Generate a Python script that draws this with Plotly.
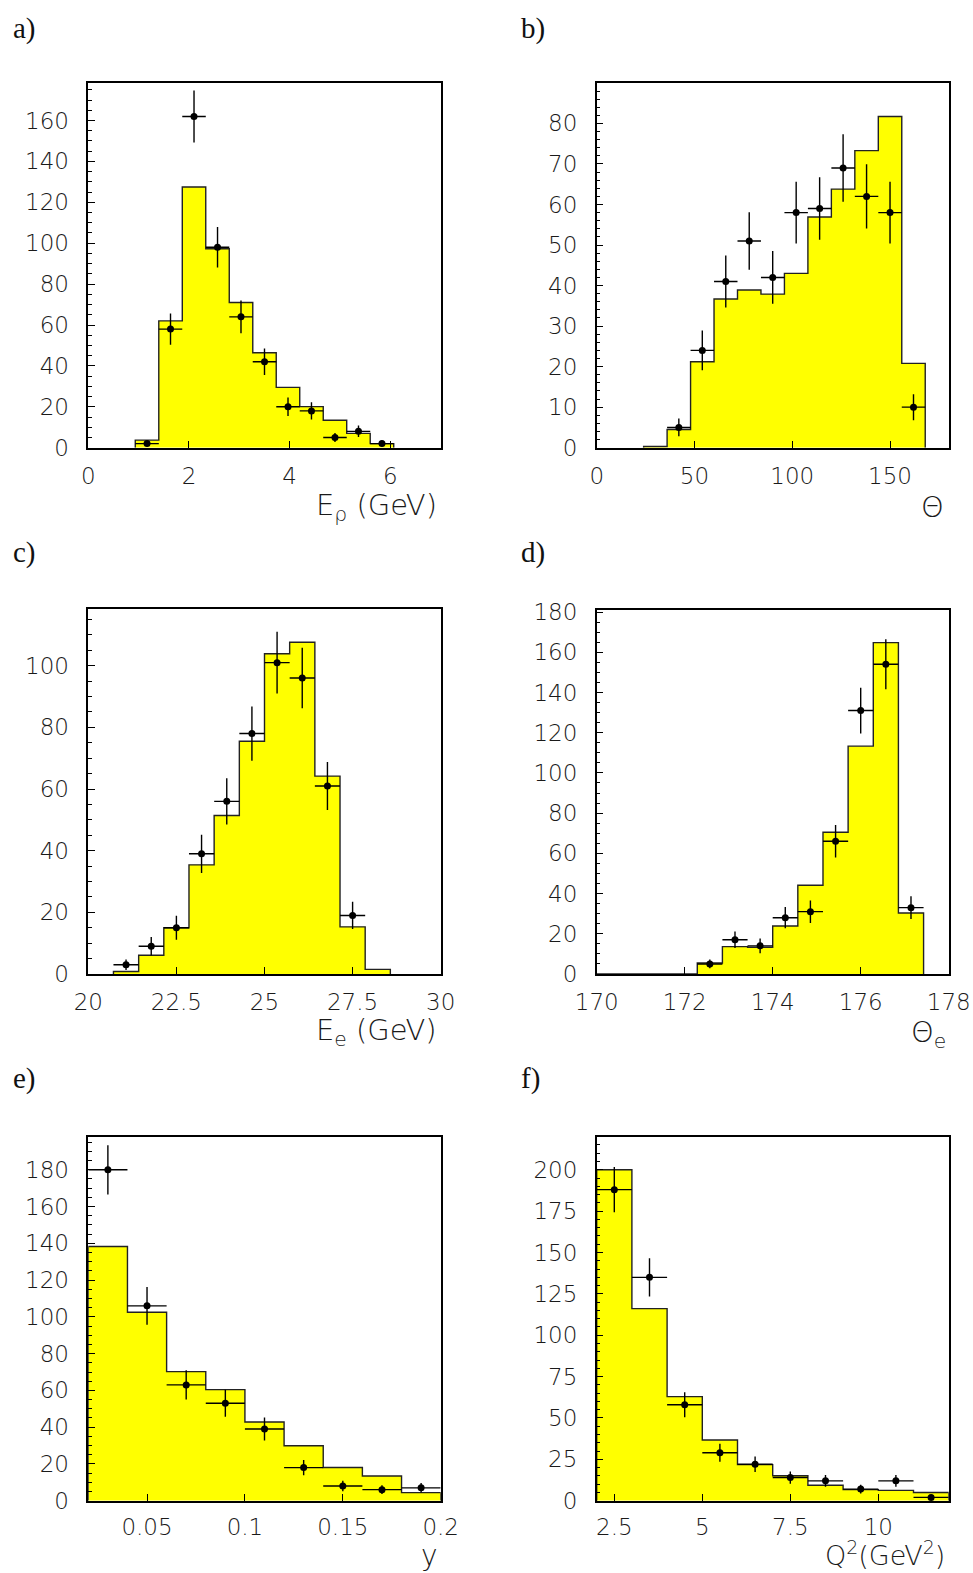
import plotly.graph_objects as go

W, H = 973, 1573

# ---------------- data ----------------
# a) E_rho
a_edges = [0.933, 1.4, 1.867, 2.333, 2.8, 3.267, 3.733, 4.2, 4.667, 5.133, 5.6, 6.067]
a_mc = [3.7, 62, 127.5, 97.3, 71, 46.4, 29.5, 20.1, 13.4, 7.0, 2.0]
a_x = [1.167, 1.633, 2.1, 2.567, 3.033, 3.5, 3.967, 4.433, 4.9, 5.367, 5.833]
a_y = [2, 58, 162, 98, 64, 42, 20, 18, 5, 8, 2]
a_err = [1.4, 7.6, 12.7, 9.9, 8.0, 6.5, 4.5, 4.2, 2.2, 2.8, 1.4]

# b) Theta
b_edges = [24, 36, 48, 60, 72, 84, 96, 108, 120, 132, 144, 156, 168]
b_mc = [0.3, 4.5, 21.2, 36.7, 38.9, 37.9, 43.0, 56.9, 63.8, 73.3, 81.7, 20.8]
b_x = [42, 54, 66, 78, 90, 102, 114, 126, 138, 150, 162]
b_y = [5, 24, 41, 51, 42, 58, 59, 69, 62, 58, 10]
b_err = [2.2, 4.9, 6.4, 7.1, 6.5, 7.6, 7.7, 8.3, 7.9, 7.6, 3.2]

# c) E_e
c_edges = [20.714, 21.429, 22.143, 22.857, 23.571, 24.286, 25.0, 25.714, 26.429, 27.143, 27.857, 28.571]
c_mc = [0.8, 6.1, 15.0, 35.4, 51.4, 75.5, 103.9, 107.6, 64.2, 15.3, 1.5]
c_x = [21.071, 21.786, 22.5, 23.214, 23.929, 24.643, 25.357, 26.071, 26.786, 27.5]
c_y = [3, 9, 15, 39, 56, 78, 101, 96, 61, 19]
c_err = [1.7, 3.0, 3.9, 6.2, 7.5, 8.8, 10.0, 9.8, 7.8, 4.4]

# d) Theta_e
d_edges = [170.0, 172.286, 172.857, 173.429, 174.0, 174.571, 175.143, 175.714, 176.286, 176.857, 177.429]
d_mc = [0, 5.5, 13.6, 13.3, 23.9, 44.1, 70.5, 113.3, 164.8, 30.3]
d_x = [172.571, 173.143, 173.714, 174.286, 174.857, 175.429, 176.0, 176.571, 177.143]
d_y = [5, 17, 14, 28, 31, 66, 131, 154, 33]
d_err = [2.2, 4.1, 3.7, 5.3, 5.6, 8.1, 11.4, 12.4, 5.7]

# e) y
e_edges = [0.02, 0.04, 0.06, 0.08, 0.10, 0.12, 0.14, 0.16, 0.18, 0.20]
e_mc = [138.3, 102.5, 70.2, 60.4, 42.8, 29.9, 18.1, 13.4, 4.4]
e_x = [0.03, 0.05, 0.07, 0.09, 0.11, 0.13, 0.15, 0.17, 0.19]
e_y = [180, 106, 63, 53, 39, 18, 8, 6, 7]
e_err = [13.4, 10.3, 7.9, 7.3, 6.2, 4.2, 2.8, 2.4, 2.6]

# f) Q^2
f_edges = [2, 3, 4, 5, 6, 7, 8, 9, 10, 11, 12]
f_mc = [200, 116.1, 62.9, 36.7, 21.8, 15.1, 9.3, 6.7, 6.25, 5.0]
f_x = [2.5, 3.5, 4.5, 5.5, 6.5, 7.5, 8.5, 9.5, 10.5, 11.5]
f_y = [188, 135, 58, 29, 22, 14, 12, 7, 12, 2]
f_err = [13.7, 11.6, 7.6, 5.4, 4.7, 3.7, 3.5, 2.6, 3.5, 1.4]

# ---------------- layout spec ----------------
TICKFONT = dict(family="DejaVu Sans", size=23, color="#1a1a1a", weight=200)
TITLEFONT = dict(family="DejaVu Sans", size=29, color="#1a1a1a", weight=200)
LABELFONT = dict(family="Liberation Serif", size=29, color="#111111")

panels = [
    dict(key="a", edges=a_edges, mc=a_mc, x=a_x, y=a_y, err=a_err,
         box=(88.3, 83.3, 440.7, 447.7), xr=[0, 7], yr=[0, 178.2],
         xt=[0, 2, 4, 6], xtt=["0", "2", "4", "6"], ydt=20, ymin=5, xso=7, tfs=29,
         title="E<sub>ρ</sub> (GeV)", tpos=(439, 507), lpos=(11, 28)),
    dict(key="b", edges=b_edges, mc=b_mc, x=b_x, y=b_y, err=b_err,
         box=(596.7, 83.3, 948.7, 447.7), xr=[0, 180], yr=[0, 89.9],
         xt=[0, 50, 100, 150], xtt=["0", "50", "100", "150"], ydt=10, ymin=2, xso=7, tfs=29,
         title="Θ", tpos=(946, 507), lpos=(519, 28)),
    dict(key="c", edges=c_edges, mc=c_mc, x=c_x, y=c_y, err=c_err,
         box=(88.3, 609.3, 440.7, 974.0), xr=[20, 30], yr=[0, 118.3],
         xt=[20, 22.5, 25, 27.5, 30], xtt=["20", "22.5", "25", "27.5", "30"], ydt=20, ymin=5,
         xso=7, tfs=29, title="E<sub>e</sub> (GeV)", tpos=(439, 1032), lpos=(11, 552)),
    dict(key="d", edges=d_edges, mc=d_mc, x=d_x, y=d_y, err=d_err,
         box=(596.7, 610.0, 948.7, 974.0), xr=[170, 178], yr=[0, 181],
         xt=[170, 172, 174, 176, 178], xtt=["170", "172", "174", "176", "178"], ydt=20, ymin=5,
         xso=7, tfs=29, title="Θ<sub>e</sub>", tpos=(948, 1034), lpos=(519, 552)),
    dict(key="e", edges=e_edges, mc=e_mc, x=e_x, y=e_y, err=e_err,
         box=(88.3, 1136.7, 440.7, 1500.7), xr=[0.02, 0.2], yr=[0, 198],
         xt=[0.05, 0.1, 0.15, 0.2], xtt=["0.05", "0.1", "0.15", "0.2"], ydt=20, ymin=5,
         xso=5, tfs=28, title="y", tpos=(440, 1555), lpos=(11, 1078)),
    dict(key="f", edges=f_edges, mc=f_mc, x=f_x, y=f_y, err=f_err,
         box=(596.7, 1136.7, 948.7, 1500.7), xr=[2, 12], yr=[0, 220],
         xt=[2.5, 5, 7.5, 10], xtt=["2.5", "5", "7.5", "10"], ydt=25, ymin=5,
         xso=5, tfs=27, title="Q<sup>2</sup>(GeV<sup>2</sup>)", tpos=(947, 1553), lpos=(519, 1078)),
]

fig = go.Figure()
annotations = []

for i, p in enumerate(panels):
    n = "" if i == 0 else str(i + 1)
    xa, ya = "x" + n, "y" + n
    edges, mc = p["edges"], p["mc"]
    # step outline of the histogram (filled)
    sx = [edges[0]] + list(edges[:-1]) + [edges[-1], edges[-1]]
    sy = [0] + list(mc) + [mc[-1], 0]
    fig.add_trace(go.Scatter(
        x=sx, y=sy, mode="lines", line=dict(shape="hv", color="#222222", width=1.4),
        fill="tozeroy", fillcolor="#ffff00", xaxis=xa, yaxis=ya,
        showlegend=False, hoverinfo="skip"))
    half = (edges[-1] - edges[-2]) / 2.0
    fig.add_trace(go.Scatter(
        x=p["x"], y=p["y"], mode="markers",
        marker=dict(color="black", size=7, symbol="circle"),
        error_y=dict(type="data", array=p["err"], color="black", thickness=1.4, width=0),
        error_x=dict(type="constant", value=half, color="black", thickness=1.4, width=0),
        xaxis=xa, yaxis=ya, showlegend=False, cliponaxis=False))

    l, t, r, b = p["box"]
    xdom = [l / W, r / W]
    ydom = [1 - b / H, 1 - t / H]
    common = dict(showline=True, linecolor="black", linewidth=1.5, mirror=True,
                  showgrid=False, zeroline=False, ticks="inside", tickcolor="black",
                  tickwidth=1.3, tickfont=TICKFONT, automargin=False)
    fig.layout["xaxis" + n] = dict(domain=xdom, range=p["xr"], anchor=ya,
                                   tickvals=p["xt"], ticktext=p["xtt"], ticklen=7,
                                   ticklabelstandoff=p["xso"], **common)
    fig.layout["yaxis" + n] = dict(domain=ydom, range=p["yr"], anchor=xa,
                                   dtick=p["ydt"], tick0=0, ticklen=7, ticklabelstandoff=13,
                                   minor=dict(dtick=p["ymin"], ticks="inside", ticklen=3.5,
                                              tickcolor="black", tickwidth=1, showgrid=False),
                                   **common)
    tx, ty = p["tpos"]
    tfont = dict(TITLEFONT, size=p["tfs"])
    annotations.append(dict(text=p["title"], x=tx / W, y=1 - ty / H, xref="paper", yref="paper",
                            xanchor="right", yanchor="middle", showarrow=False, font=tfont))
    lx, ly = p["lpos"]
    annotations.append(dict(text=p["key"] + ")", x=lx / W, y=1 - ly / H, xref="paper", yref="paper",
                            xanchor="left", yanchor="middle", showarrow=False, font=LABELFONT))

fig.update_layout(width=W, height=H, margin=dict(l=0, r=0, t=0, b=0),
                  paper_bgcolor="white", plot_bgcolor="white",
                  annotations=annotations, showlegend=False)

fig.write_html("out.html", config={"displayModeBar": False},
               post_script="document.body.style.margin='0';")
